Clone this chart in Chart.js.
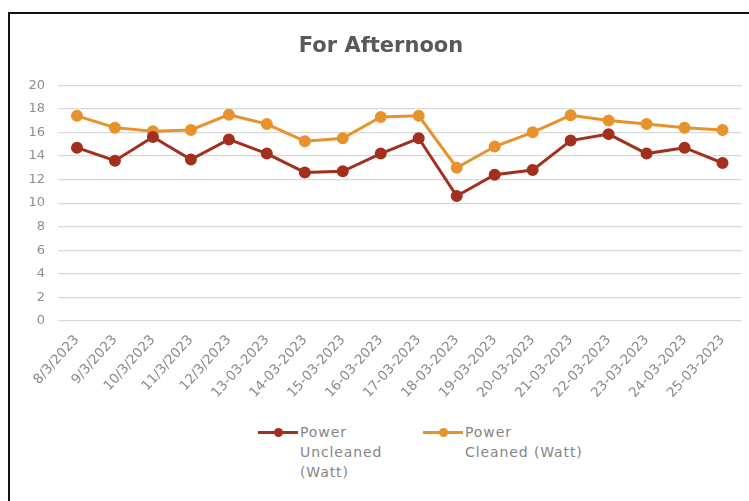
<!DOCTYPE html>
<html>
<head>
<meta charset="utf-8">
<script src="https://cdn.jsdelivr.net/npm/chart.js@4.4.0/dist/chart.umd.min.js"></script>
<style>
  html, body { margin: 0; padding: 0; background: #fff; }
  body { width: 749px; height: 501px; overflow: hidden; position: relative; font-family: "DejaVu Sans", sans-serif; }
  .frame { position: absolute; left: 8px; top: 12px; width: 760px; height: 520px; border-left: 2px solid #111; border-top: 2px solid #111; }
  .wrap { position: absolute; left: 0; top: 0; width: 749px; height: 420px; }
  #legend { position: absolute; top: 422px; left: 0; width: 749px; }
  .item { position: absolute; display: flex; align-items: flex-start; color: #858585; font-size: 14px; letter-spacing: 0.9px; line-height: 20px; }
  .mark { position: relative; width: 40px; height: 20px; flex: none; margin-right: 2px; }
  .mark .ln { position: absolute; left: 0; right: 0; top: 9px; height: 3px; }
  .mark .pt { position: absolute; left: 16px; top: 6px; width: 9px; height: 9px; border-radius: 50%; }
</style>
</head>
<body>
<div class="frame"></div>
<div class="wrap"><canvas id="myChart"></canvas></div>
<div id="legend"></div>
<script>
const dates = [
  "8/3/2023", "9/3/2023", "10/3/2023", "11/3/2023", "12/3/2023",
  "13-03-2023", "14-03-2023", "15-03-2023", "16-03-2023", "17-03-2023",
  "18-03-2023", "19-03-2023", "20-03-2023", "21-03-2023", "22-03-2023",
  "23-03-2023", "24-03-2023", "25-03-2023"
];
const uncleaned = [14.7, 13.6, 15.6, 13.7, 15.4, 14.2, 12.6, 12.7, 14.2, 15.5, 10.6, 12.4, 12.8, 15.3, 15.85, 14.2, 14.7, 13.4];
const cleaned = [17.4, 16.4, 16.1, 16.2, 17.5, 16.7, 15.25, 15.5, 17.3, 17.4, 13.0, 14.8, 16.0, 17.45, 17.0, 16.7, 16.4, 16.2];
const seriesNames = [["Power", "Uncleaned", "(Watt)"], ["Power", "Cleaned (Watt)"]];
const seriesColors = ["#A3301E", "#E8922C"];
const yTicks = [0, 2, 4, 6, 8, 10, 12, 14, 16, 18, 20];

const data = {
  labels: dates,
  datasets: [
    {
      label: seriesNames[0].join(" "),
      data: uncleaned,
      borderColor: seriesColors[0],
      backgroundColor: seriesColors[0],
      borderWidth: 3,
      pointRadius: 4.5,
      tension: 0
    },
    {
      label: seriesNames[1].join(" "),
      data: cleaned,
      borderColor: seriesColors[1],
      backgroundColor: seriesColors[1],
      borderWidth: 3,
      pointRadius: 4.5,
      tension: 0
    }
  ]
};

const config = {
  type: "line",
  data,
  options: {
    responsive: true,
    maintainAspectRatio: false,
    animation: false,
    layout: { padding: { left: 20, right: 7, top: 0, bottom: 0 } },
    plugins: {
      legend: { display: false },
      tooltip: { enabled: false },
      title: {
        display: true,
        text: "For Afternoon",
        color: "#595959",
        font: { family: "DejaVu Sans", size: 21, weight: "bold" },
        padding: { top: 34, bottom: 26 }
      }
    },
    scales: {
      x: {
        offset: true,
        grid: { display: false },
        border: { display: false },
        ticks: {
          color: "#8a8a8a",
          font: { family: "DejaVu Sans", size: 13.5 },
          minRotation: 48,
          maxRotation: 48,
          autoSkip: false,
          padding: 3
        },
        afterFit: (scale) => { scale.height = 99; }
      },
      y: {
        min: 0,
        max: 20,
        afterBuildTicks: (scale) => { scale.ticks = yTicks.map(v => ({ value: v })); },
        grid: { color: "#d9d9d9", lineWidth: 1.2, drawTicks: false },
        border: { display: false },
        ticks: {
          color: "#8f8f8f",
          font: { family: "DejaVu Sans", size: 13 },
          padding: 13
        },
        afterFit: (scale) => { scale.width = 38; }
      }
    }
  }
};

const myChart = new Chart(document.getElementById("myChart"), config);

// legend with wrapped names, built from the series arrays
const legendPos = [258, 423];
const legend = document.getElementById("legend");
seriesNames.forEach((lines, i) => {
  const item = document.createElement("div");
  item.className = "item";
  item.style.left = legendPos[i] + "px";
  item.innerHTML =
    '<div class="mark"><div class="ln" style="background:' + seriesColors[i] + '"></div>' +
    '<div class="pt" style="background:' + seriesColors[i] + '"></div></div>' +
    '<div>' + lines.join("<br>") + '</div>';
  legend.appendChild(item);
});
</script>
</body>
</html>
